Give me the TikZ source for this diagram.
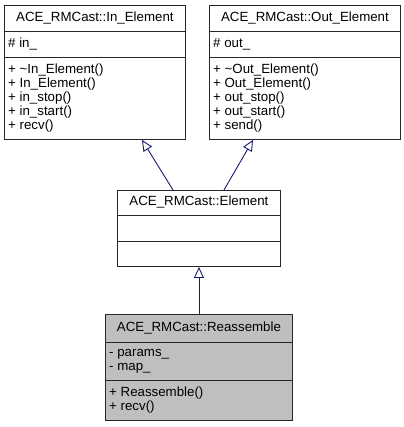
\documentclass[tikz,border=0pt]{standalone}
\usepackage{fontspec}
\setmainfont{Liberation Sans}
\usetikzlibrary{arrows.meta}
\definecolor{edgeblue}{RGB}{25,25,112}
\definecolor{selgray}{RGB}{191,191,191}
\tikzset{
  cls/.style={draw=black!85, line width=0.9bp, fill=white, inner sep=0, anchor=north west},
  sep/.style={draw=black!85, line width=0.9bp},
  title/.style={inner sep=0, font=\fontsize{13.3bp}{14.2bp}\selectfont},
  member/.style={inner sep=0, anchor=west, align=left, font=\fontsize{13.3bp}{14.2bp}\selectfont},
  inherit/.style={draw=edgeblue, line width=0.9bp, -{Triangle[open, length=11bp, width=10bp]}}
}
\begin{document}
\begin{tikzpicture}[x=1bp, y=-1bp]
  \useasboundingbox (0,0) rectangle (404,427);
  % classes
  \node[cls, minimum width=181bp, minimum height=134bp] (in) at (4,5) {};
  \node[cls, minimum width=191bp, minimum height=134bp] (out) at (209,5) {};
  \node[cls, minimum width=163bp, minimum height=76bp] (elem) at (117,190) {};
  \node[cls, fill=selgray, minimum width=187bp, minimum height=106bp] (reas) at (105,314) {};
  % compartments
  \draw[sep] (in.west |- 0,31) -- (in.east |- 0,31);
  \draw[sep] (in.west |- 0,57) -- (in.east |- 0,57);
  \draw[sep] (out.west |- 0,31) -- (out.east |- 0,31);
  \draw[sep] (out.west |- 0,57) -- (out.east |- 0,57);
  \draw[sep] (elem.west |- 0,215) -- (elem.east |- 0,215);
  \draw[sep] (elem.west |- 0,241) -- (elem.east |- 0,241);
  \draw[sep] (reas.west |- 0,342) -- (reas.east |- 0,342);
  \draw[sep] (reas.west |- 0,380) -- (reas.east |- 0,380);
  % texts
  \node[title] (in-name) at (in.north |- 0,18) {ACE\_RMCast::In\_Element};
  \node[member] (in-attr) at ([xshift=4bp]in.west |- 0,44) {\# in\_};
  \node[member] (in-ops) at ([xshift=4bp]in.west |- 0,98) {+ \textasciitilde In\_Element()\\+ In\_Element()\\+ in\_stop()\\+ in\_start()\\+ recv()};
  \node[title] (out-name) at (out.north |- 0,18) {ACE\_RMCast::Out\_Element};
  \node[member] (out-attr) at ([xshift=4bp]out.west |- 0,44) {\# out\_};
  \node[member] (out-ops) at ([xshift=4bp]out.west |- 0,98) {+ \textasciitilde Out\_Element()\\+ Out\_Element()\\+ out\_stop()\\+ out\_start()\\+ send()};
  \node[title] (elem-name) at (elem.north |- 0,202) {ACE\_RMCast::Element};
  \node[title] (reas-name) at (reas.north |- 0,328) {ACE\_RMCast::Reassemble};
  \node[member] (reas-attr) at ([xshift=4bp]reas.west |- 0,361) {- params\_\\- map\_};
  \node[member] (reas-ops) at ([xshift=4bp]reas.west |- 0,400) {+ Reassemble()\\+ recv()};
  % inheritance
  \begin{scope}[inherit]
    \draw ([xshift=56bp]elem.north west) -- ([xshift=138bp]in.south west);
    \draw ([xshift=107bp]elem.north west) -- ([xshift=44bp]out.south west);
    \draw (reas.north |- 0,314) -- (elem.south -| reas.north);
  \end{scope}
\end{tikzpicture}
\end{document}
